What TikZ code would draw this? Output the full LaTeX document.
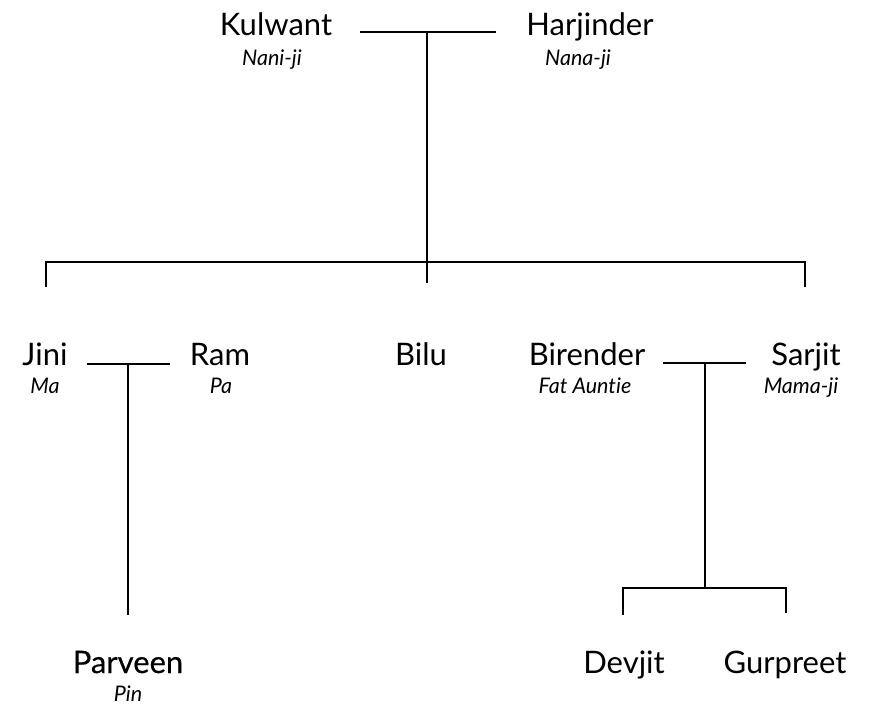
\documentclass[tikz,border=0pt]{standalone}
\usepackage{fontspec}
\setmainfont{Lato}[Ligatures=NoCommon]
\newfontfamily\medfont{Lato}[FakeBold=0.4,Ligatures=NoCommon]
\begin{document}
\begin{tikzpicture}[x=1pt,y=-1pt,
  nm/.style={anchor=base,inner sep=0pt,font=\fontsize{31}{33}\selectfont},
  nick/.style={anchor=base,inner sep=0pt,font=\fontsize{21.5}{23}\selectfont\itshape},
  ln/.style={line width=1.6pt,line cap=butt}]
\useasboundingbox (0,0) rectangle (880,710);
% top couple
\node[nm] (kul) at (276,35) {Kulwant};
\node[nick] (kuln) at (272,65) {Nani-ji};
\node[nm] (har) at (590,35) {Harjinder};
\node[nick] (harn) at (578,65) {Nana-ji};
\coordinate (c1l) at (360,32);
\coordinate (c1r) at (496,32);
\coordinate (c1m) at (427,32);
\coordinate (b1) at (427,262);
\coordinate (b1l) at (46,262);
\coordinate (b1r) at (805,262);
\coordinate (d1l) at (46,287);
\coordinate (d1m) at (427,283);
\coordinate (d1r) at (805,287);
\draw[ln] (c1l) -- (c1r);
\draw[ln] (c1m) -- (d1m);
\draw[ln] (d1l) -- (b1l) -- (b1r) -- (d1r);
% middle generation
\node[nm] (jini) at (45,365) {Jini};
\node[nick] (jinin) at (45,393) {Ma};
\node[nm] (ram) at (220,365) {Ram};
\node[nick] (ramn) at (221,393) {Pa};
\node[nm] (bilu) at (421,365) {Bilu};
\node[nm] (bir) at (587,365) {Birender};
\node[nick] (birn) at (585,393) {Fat Auntie};
\node[nm] (sar) at (806,365) {Sarjit};
\node[nick] (sarn) at (801,393) {Mama-ji};
\coordinate (c2l) at (87,364);
\coordinate (c2r) at (170,364);
\coordinate (c2m) at (128,364);
\coordinate (d2) at (128,615);
\draw[ln] (c2l) -- (c2r);
\draw[ln] (c2m) -- (d2);
\coordinate (c3l) at (663,363);
\coordinate (c3r) at (746,363);
\coordinate (c3m) at (705,363);
\coordinate (b3) at (705,588);
\coordinate (b3l) at (623,588);
\coordinate (b3r) at (786,588);
\coordinate (d3l) at (623,615);
\coordinate (d3r) at (786,613);
\draw[ln] (c3l) -- (c3r);
\draw[ln] (c3m) -- (b3);
\draw[ln] (d3l) -- (b3l) -- (b3r) -- (d3r);
% bottom generation
\node[nm,font=\fontsize{31}{33}\selectfont\medfont] (par) at (128,673) {Parveen};
\node[nick] (parn) at (128,701) {Pin};
\node[nm] (dev) at (624,673) {Devjit};
\node[nm] (gur) at (785,673) {Gurpreet};
\end{tikzpicture}
\end{document}
